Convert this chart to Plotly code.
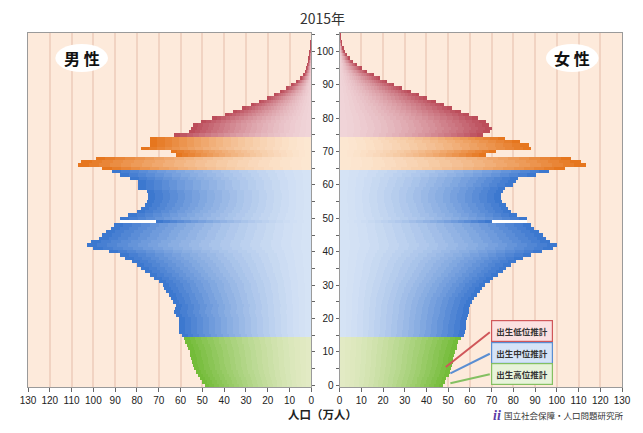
import plotly.graph_objects as go

# ---------------- data (万人) ----------------
ages = list(range(0, 106))

male = [49, 50, 51, 52, 53, 54, 54.3, 54.8, 55, 55.5,
        55.8, 56.5, 57, 58, 58.5, 59.5, 60.5, 60.8, 60.8, 60.5,
        60.8, 62, 63, 62.5, 62.2, 63.7, 64.5, 65.2, 66.7, 67.5,
        68.2, 69.7, 72, 74.2, 76.5, 78, 80.2, 82.5, 85.4, 87.7,
        93, 100, 103, 101, 97.4, 95.9, 94.4, 92.1, 90.7, 71.2,
        87.6, 84, 80, 78, 76.5, 75.5, 75, 75, 75.5, 79.5,
        79.6, 79.6, 83, 87.7, 91.4, 96, 107, 105.5, 99, 62,
        64.5, 78, 74, 74, 74, 63, 56, 55, 54.5, 50.5,
        45.5, 39.8, 35.8, 31.6, 27.8, 24, 20.4, 17.2, 14.2, 11.4,
        9, 6.8, 4.8, 3.5, 2.8, 2.3, 1.8, 1.4, 1.1, 0.9,
        0.7, 0.5, 0.3, 0.2, 0.1, 0.1]

female = [47.5, 48.5, 49, 50, 50.5, 51.1, 51.5, 52, 52.2, 52.5,
          53, 53.7, 54, 54.5, 55.6, 57, 57.5, 57.8, 57.8, 58,
          58.5, 58.8, 59.3, 59.5, 60, 60.8, 61.5, 63, 64.5, 65.3,
          66.8, 69, 70.5, 72.8, 75, 76.5, 78.7, 81, 84, 88,
          93, 98, 99.7, 96.5, 95, 93.5, 91.5, 89.5, 88, 70,
          86.2, 81.5, 78.7, 77.5, 76.5, 74.5, 74.3, 74.3, 75, 76,
          79.5, 81, 82, 90, 96, 103.4, 113, 111, 106.4, 67,
          72, 88, 87, 83, 76, 66, 69, 70, 68.5, 67,
          63.5, 59.5, 55.5, 51.5, 48, 44, 40, 36.5, 32.5, 28.5,
          25, 21.5, 18.5, 15.5, 12.5, 10, 7.6, 5.8, 4.3, 3.0,
          2.0, 1.4, 0.9, 0.6, 0.35, 0.2]

# age-group bounds (lower ages) and gradient colours (centre -> tip)
group_starts = [0, 15, 65, 75]
group_light = [(226, 234, 196), (214, 227, 245), (252, 231, 210), (240, 212, 216)]
group_dark = [(112, 186, 52), (55, 116, 206), (229, 114, 24), (186, 72, 86)]

xticks = list(range(0, 131, 10))
yticks = list(range(0, 101, 10))

variant_labels = ["出生低位推計", "出生中位推計", "出生高位推計"]
variant_fill = ["#fbe1e1", "#d5e4f7", "#e8f3da"]
variant_line = ["#d0575a", "#5a8ed2", "#84c062"]
variant_age = [5.5, 3.6, 0.6]      # tip points the callouts point to (female side)
variant_value = [48.9, 51.0, 51.0]

N = 22  # gradient steps

# page geometry (the page body adds an 8px offset)
PX0, PY0 = 20.0, 33.0          # top-left of plotting area on the page
PW, PH = 609.0, 354.0


def group_of(a):
    g = 0
    for i, s in enumerate(group_starts):
        if a >= s:
            g = i
    return g


def mix(c1, c2, t):
    return "rgb(%d,%d,%d)" % tuple(round(c1[i] + (c2[i] - c1[i]) * t) for i in range(3))


def px(X):
    return (X - PX0) / PW


def py(Y):
    return (PY0 + PH - Y) / PH


fig = go.Figure()

for vals, xa, ya in [(male, "x", "y"), (female, "x2", "y2")]:
    for k in range(N):
        t = ((k + 0.5) / N) ** 1.5
        cols = [mix(group_light[group_of(a)], group_dark[group_of(a)], t) for a in ages]
        fig.add_trace(go.Bar(
            y=ages, x=[v / N for v in vals], orientation="h",
            marker=dict(color=cols, line=dict(width=0)),
            xaxis=xa, yaxis=ya, showlegend=False, hoverinfo="skip"))
    # white notch highlight where a cohort is much smaller than both neighbours
    notch = []
    for i, v in enumerate(vals):
        if 0 < i < len(vals) - 1:
            d = min(vals[i - 1], vals[i + 1]) - v
            notch.append(d if d > 10 else 0)
        else:
            notch.append(0)
    fig.add_trace(go.Bar(
        y=ages, x=notch, orientation="h",
        marker=dict(color="rgba(255,255,255,0.95)", line=dict(width=0)),
        xaxis=xa, yaxis=ya, showlegend=False, hoverinfo="skip"))

grid = "#f1d3c2"
axis_common = dict(showline=True, linecolor="#9a9a9a", linewidth=1, mirror=True,
                   zeroline=False)

fig.update_layout(
    width=635, height=425,
    margin=dict(l=12, r=14, t=25, b=46),
    paper_bgcolor="white", plot_bgcolor="#fdeadb",
    barmode="stack", bargap=0,
    font=dict(family="Liberation Sans, Arial, sans-serif", color="#222"),
    xaxis=dict(domain=[0, 0.477], range=[130, 0], tickvals=xticks,
               ticks="outside", ticklen=4, tickcolor="#666",
               tickfont=dict(size=10, color="#222"),
               showgrid=True, gridcolor=grid, gridwidth=1.5, anchor="y", **axis_common),
    yaxis=dict(range=[-0.5, 105.5], side="right", showticklabels=False,
               tickvals=list(range(0, 106, 5)), ticks="outside", ticklen=3, tickcolor="#666",
               showgrid=False, anchor="x", **axis_common),
    xaxis2=dict(domain=[0.5245, 1], range=[0, 130], tickvals=xticks,
                ticks="outside", ticklen=4, tickcolor="#666",
                tickfont=dict(size=10, color="#222"),
                showgrid=True, gridcolor=grid, gridwidth=1.5, anchor="y2", **axis_common),
    yaxis2=dict(range=[-0.5, 105.5], side="left", tickvals=yticks,
                ticks="outside", ticklen=3, tickcolor="#666",
                minor=dict(tickvals=list(range(5, 106, 10)), ticks="outside", ticklen=3, tickcolor="#666"),
                tickfont=dict(size=10, color="#222"),
                showgrid=False, anchor="x2", **axis_common),
)

# sex labels with white glow backgrounds
for cx, label in [(75, "男 性"), (578, "女 性")]:
    fig.add_shape(type="circle", xref="paper", yref="paper",
                  x0=px(cx - 27), x1=px(cx + 27),
                  y0=py(72), y1=py(44),
                  fillcolor="white", line=dict(width=0), layer="above")
    fig.add_annotation(x=px(cx), y=py(58), xref="paper", yref="paper",
                       xanchor="center", yanchor="middle",
                       text="<b>%s</b>" % label, showarrow=False,
                       font=dict(size=16, color="#111", family="Noto Sans CJK JP"))

# title
fig.add_annotation(x=px(322), y=py(18), yref="paper", xref="paper",
                   xanchor="center", yanchor="middle",
                   text="2015年", showarrow=False,
                   font=dict(size=14, color="#333", family="Noto Sans CJK JP"))

# x axis title
fig.add_annotation(x=px(322), y=py(414), xref="paper", yref="paper",
                   xanchor="center", yanchor="middle", text="<b>人口（万人）</b>", showarrow=False,
                   font=dict(size=11.5, color="#222", family="Noto Sans CJK JP"))

# logo
fig.add_annotation(x=px(501), y=py(415), xref="paper", yref="paper",
                   xanchor="center", yanchor="middle", text="<b><i>ii</i></b>", showarrow=False,
                   font=dict(size=14, color="#5a3ca6", family="Liberation Serif"))
fig.add_annotation(x=px(570), y=py(415), xref="paper", yref="paper",
                   xanchor="center", yanchor="middle", text="国立社会保障・人口問題研究所", showarrow=False,
                   font=dict(size=8.5, color="#333", family="Noto Sans CJK JP"))

# variant callouts
x2_per_px = 130.0 / (PW * (1 - 0.5245))
y_per_px = 106.0 / PH
box_y = [331, 353, 374]
box_left = 495
for lab, fc, lc, by, va, vv in zip(variant_labels, variant_fill, variant_line, box_y, variant_age, variant_value):
    tail_x = (box_left - (PX0 + 0.5245 * PW)) * x2_per_px
    tail_y = (PY0 + PH - by) * y_per_px - 0.5
    fig.add_annotation(x=vv, y=va, xref="x2", yref="y2",
                       ax=tail_x, ay=tail_y, axref="x2", ayref="y2",
                       showarrow=True, arrowhead=0, arrowwidth=2, arrowcolor=lc, text="")
    fig.add_annotation(x=px(526), y=py(by), xref="paper", yref="paper",
                       xanchor="center", yanchor="middle",
                       text="<b>%s</b>" % lab, showarrow=False,
                       bgcolor=fc, bordercolor=lc, borderwidth=1.2, borderpad=4,
                       font=dict(size=8.5, color="#333", family="Noto Sans CJK JP"))

fig.write_html("out.html")
